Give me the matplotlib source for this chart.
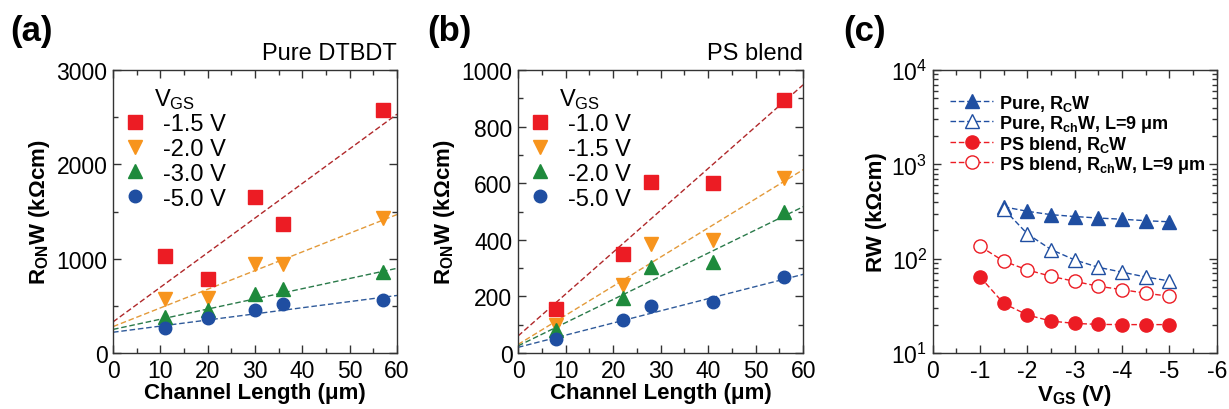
import numpy as np
import matplotlib
matplotlib.use("Agg")
import matplotlib.pyplot as plt
from matplotlib.ticker import MultipleLocator, LogLocator, NullFormatter

plt.rcParams['font.family'] = ['Liberation Sans', 'DejaVu Sans']
plt.rcParams['mathtext.fontset'] = 'custom'
plt.rcParams['mathtext.rm'] = 'Liberation Sans'
plt.rcParams['mathtext.bf'] = 'Liberation Sans:bold'
plt.rcParams['mathtext.it'] = 'Liberation Sans:italic'
plt.rcParams['axes.unicode_minus'] = False

# (a) pure DTBDT
len_a = [11, 20, 30, 36, 57]
vgs_a = ["-1.5 V", "-2.0 V", "-3.0 V", "-5.0 V"]
ron_a = [
    [1030, 780, 1650, 1370, 2580],
    [570, 580, 940, 940, 1430],
    [380, 460, 630, 680, 860],
    [270, 370, 460, 520, 560],
]
fit_a = [(330, 36.7), (280, 19.8), (250, 10.8), (220, 6.5)]  # intercept, slope

# (b) PS blend
len_b = [8, 22, 28, 41, 56]
vgs_b = ["-1.0 V", "-1.5 V", "-2.0 V", "-5.0 V"]
ron_b = [
    [155, 350, 605, 600, 895],
    [100, 240, 385, 400, 620],
    [80, 195, 305, 320, 500],
    [50, 115, 165, 180, 270],
]
fit_b = [(60, 14.8), (30, 10.3), (25, 8.2), (20, 4.3)]

# (c) contact / channel resistance
vgs_pure = [-1.5, -2.0, -2.5, -3.0, -3.5, -4.0, -4.5, -5.0]
pure_rc = [355, 318, 293, 280, 270, 262, 253, 246]
pure_rch = [336, 183, 125, 97, 81, 72, 64, 58]
vgs_ps = [-1.0, -1.5, -2.0, -2.5, -3.0, -3.5, -4.0, -4.5, -5.0]
ps_rc = [64, 33.5, 25.3, 21.8, 20.6, 20.1, 20.0, 20.0, 20.0]
ps_rch = [135, 94, 76, 65, 57.5, 51, 47, 43, 40]

markers = ['s', 'v', '^', 'o']
msizes = [10, 10, 10, 9]
mcolors = ['#ec1c24', '#f7941d', '#1e8a3c', '#1f4ea1']
lcolors = ['#b0282a', '#e39a3a', '#2a7a4a', '#2f5a9a']
blue = '#1f4ea1'
red = '#ec1c24'

fig = plt.figure(figsize=(12.29, 4.10), dpi=100)
ax_a = fig.add_axes([0.092, 0.1366, 0.231, 0.690])
ax_b = fig.add_axes([0.4215, 0.1366, 0.232, 0.690])
ax_c = fig.add_axes([0.759, 0.1366, 0.231, 0.690])


def style(ax):
    ax.tick_params(which='both', direction='in', top=True, right=True,
                   labelsize=16.5, width=1, colors='#333333', labelcolor='black')
    ax.tick_params(which='major', length=6, pad=4)
    ax.tick_params(which='minor', length=3.5)
    for s in ax.spines.values():
        s.set_linewidth(1.0)
        s.set_color('#333333')


def rds_panel(ax, lens, data, fits, labels, ymax, ymaj, ymin, title, tag, tagx):
    x = np.array([0, 60])
    for i in range(4):
        b, m = fits[i]
        ax.plot(x, b + m * x, '--', color=lcolors[i], lw=1.0, dashes=(4, 2))
    for i in range(4):
        ax.plot(lens, data[i], linestyle='none', marker=markers[i], color=mcolors[i],
                markersize=msizes[i], label=labels[i])
    ax.set_xlim(0, 60)
    ax.set_ylim(0, ymax)
    ax.xaxis.set_major_locator(MultipleLocator(10))
    ax.xaxis.set_minor_locator(MultipleLocator(5))
    ax.yaxis.set_major_locator(MultipleLocator(ymaj))
    ax.yaxis.set_minor_locator(MultipleLocator(ymin))
    ax.set_xlabel('Channel Length (\u03bcm)', fontsize=16, fontweight='bold', labelpad=0)
    ax.set_ylabel('R$_{\\mathbf{ON}}$W (k\u03a9cm)', fontsize=16, fontweight='bold', labelpad=3)
    style(ax)
    ax.legend(loc='upper left', bbox_to_anchor=(0.0, 0.865), frameon=False,
              fontsize=17, handletextpad=0.4, labelspacing=0.12, borderpad=0.2,
              handlelength=1.5, borderaxespad=0.0)
    ax.text(0.145, 0.9, 'V$_{\\mathrm{GS}}$', transform=ax.transAxes, ha='left',
            va='center', fontsize=17)
    ax.text(1.0, 1.02, title, transform=ax.transAxes, ha='right', va='bottom', fontsize=17)
    ax.text(tagx, 1.2, tag, transform=ax.transAxes, ha='left', va='top',
            fontsize=25, fontweight='bold')


rds_panel(ax_a, len_a, ron_a, fit_a, vgs_a, 3000, 1000, 500, 'Pure DTBDT', '(a)', -0.363)
rds_panel(ax_b, len_b, ron_b, fit_b, vgs_b, 1000, 200, 100, 'PS blend', '(b)', -0.319)

# (c)
dash = dict(linestyle='--', dashes=(4, 2), lw=1.0)
ax_c.plot(vgs_pure, pure_rc, marker='^', color=blue, mfc=blue, markersize=10,
          label='Pure, R$_{\\mathbf{C}}$W', **dash)
ax_c.plot(vgs_pure, pure_rch, marker='^', color=blue, mfc='white', markersize=10,
          label='Pure, R$_{\\mathbf{ch}}$W, L=9 \u03bcm', **dash)
ax_c.plot(vgs_ps, ps_rc, marker='o', color=red, mfc=red, markersize=9.5,
          label='PS blend, R$_{\\mathbf{C}}$W', **dash)
ax_c.plot(vgs_ps, ps_rch, marker='o', color=red, mfc='white', markersize=9.5,
          label='PS blend, R$_{\\mathbf{ch}}$W, L=9 \u03bcm', **dash)
ax_c.set_yscale('log')
ax_c.set_xlim(0, -6)
ax_c.set_ylim(10, 1e4)
ax_c.xaxis.set_major_locator(MultipleLocator(1))
ax_c.xaxis.set_minor_locator(MultipleLocator(0.5))
ax_c.yaxis.set_major_locator(LogLocator(base=10))
ax_c.yaxis.set_minor_locator(LogLocator(base=10, subs=np.arange(2, 10)))
ax_c.yaxis.set_minor_formatter(NullFormatter())
ax_c.set_xlabel('V$_{\\mathbf{GS}}$ (V)', fontsize=16, fontweight='bold', labelpad=0)
ax_c.set_ylabel('RW (k\u03a9cm)', fontsize=16, fontweight='bold', labelpad=3)
style(ax_c)
ax_c.legend(loc='upper left', bbox_to_anchor=(0.06, 0.92), frameon=False,
            prop={'size': 13, 'weight': 'bold'}, handlelength=2.4,
            handletextpad=0.3, labelspacing=0.0, borderpad=0.0, borderaxespad=0.0)
ax_c.text(-0.317, 1.2, '(c)', transform=ax_c.transAxes, ha='left', va='top',
          fontsize=25, fontweight='bold')

fig.savefig('out.png', dpi=100)
